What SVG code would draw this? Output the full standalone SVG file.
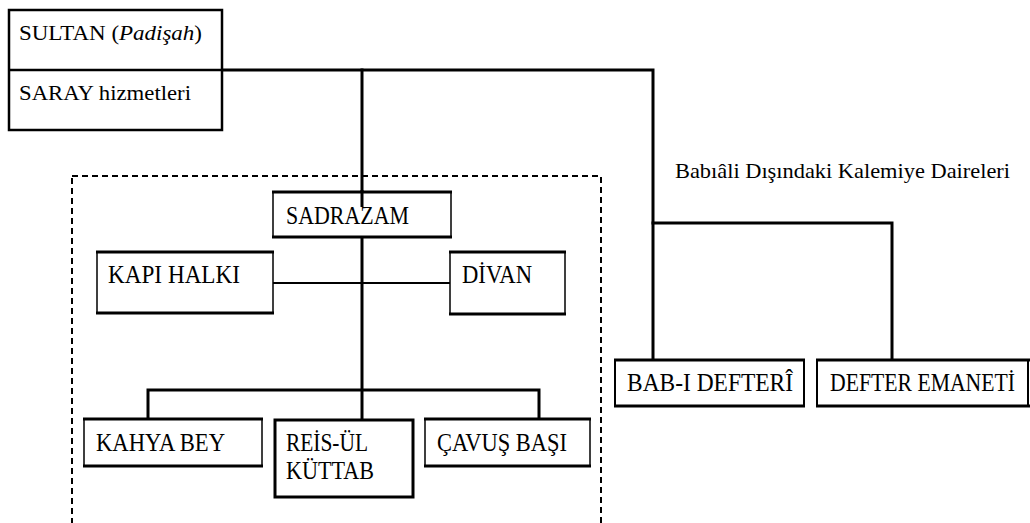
<svg xmlns="http://www.w3.org/2000/svg" width="1030" height="523" viewBox="0 0 1030 523">
<style>
  .box { fill: #fff; stroke: #000; stroke-width: 1.5; }
  .edge { stroke: #000; stroke-width: 3; fill: none; }
  .thin { stroke: #000; stroke-width: 2; fill: none; }
  .wire { stroke: #000; stroke-width: 3; fill: none; stroke-linecap: square; }
</style>
<rect width="1030" height="523" fill="#fff"/>

<!-- dashed container -->
<rect x="72" y="176" width="529" height="370" fill="none" stroke="#000" stroke-width="2" stroke-dasharray="6 4"/>

<g id="connectors">
  <path class="wire" d="M222 70 H653 V360"/>
  <path class="wire" d="M653 223 H892 V360"/>
  <path class="wire" d="M362 70 V207"/>
  <path class="wire" d="M362 237 V419"/>
  <path class="thin" d="M273 283 H450"/>
  <path class="wire" d="M148 418 V390 H539 V417"/>
</g>

<g id="sultan">
  <rect x="9" y="10" width="213" height="120" fill="#fff" stroke="#000" stroke-width="2.5"/>
  <line x1="9" y1="70" x2="222" y2="70" stroke="#000" stroke-width="2.5"/>
  <text x="19" y="40" font-family="'Liberation Serif', serif" font-size="22" fill="#000" textLength="183" lengthAdjust="spacingAndGlyphs">SULTAN (<tspan font-style="italic">Padişah</tspan>)</text>
  <text x="19" y="100" font-family="'Liberation Serif', serif" font-size="22" fill="#000" textLength="172" lengthAdjust="spacingAndGlyphs">SARAY hizmetleri</text>
</g>

<g id="sadrazam">
  <rect class="box" x="273" y="192" width="178" height="45"/>
  <line class="edge" x1="272" y1="192" x2="452" y2="192" stroke-width="2"/>
  <line class="edge" x1="272" y1="237" x2="452" y2="237"/>
  <line x1="362" y1="190" x2="362" y2="207" stroke="#000" stroke-width="3"/>
  <text x="286" y="224" font-family="'Liberation Serif', serif" font-size="25" fill="#000" textLength="123" lengthAdjust="spacingAndGlyphs">SADRAZAM</text>
</g>

<g id="kapi-halki">
  <rect class="box" x="97" y="252" width="176" height="61"/>
  <line class="edge" x1="96" y1="252" x2="274" y2="252"/>
  <line class="edge" x1="96" y1="313" x2="274" y2="313"/>
  <text x="108" y="283" font-family="'Liberation Serif', serif" font-size="25" fill="#000" textLength="132" lengthAdjust="spacingAndGlyphs">KAPI  HALKI</text>
</g>

<g id="divan">
  <rect class="box" x="450" y="252" width="115" height="62"/>
  <line class="edge" x1="449" y1="252" x2="566" y2="252" stroke-width="2"/>
  <line class="edge" x1="449" y1="314" x2="566" y2="314"/>
  <text x="462" y="283" font-family="'Liberation Serif', serif" font-size="25" fill="#000" textLength="70" lengthAdjust="spacingAndGlyphs">DİVAN</text>
</g>

<g id="kahya-bey">
  <rect class="box" x="84" y="419" width="178" height="47"/>
  <line class="edge" x1="83" y1="419" x2="263" y2="419"/>
  <line class="edge" x1="83" y1="466" x2="263" y2="466"/>
  <text x="96" y="451" font-family="'Liberation Serif', serif" font-size="25" fill="#000" textLength="129" lengthAdjust="spacingAndGlyphs">KAHYA BEY</text>
</g>

<g id="reis-ul-kuttab">
  <rect x="275" y="420" width="138" height="77" fill="#fff" stroke="#000" stroke-width="3"/>
  <text x="286" y="451" font-family="'Liberation Serif', serif" font-size="25" fill="#000" textLength="82" lengthAdjust="spacingAndGlyphs">REİS-ÜL</text>
  <text x="286" y="479" font-family="'Liberation Serif', serif" font-size="25" fill="#000" textLength="88" lengthAdjust="spacingAndGlyphs">KÜTTAB</text>
</g>

<g id="cavus-basi">
  <rect class="box" x="425" y="419" width="165" height="47"/>
  <line class="edge" x1="424" y1="419" x2="591" y2="419"/>
  <line class="edge" x1="424" y1="466" x2="591" y2="466"/>
  <text x="437" y="451" font-family="'Liberation Serif', serif" font-size="25" fill="#000" textLength="130" lengthAdjust="spacingAndGlyphs">ÇAVUŞ BAŞI</text>
</g>

<g id="kalemiye-label">
  <text x="675" y="178" font-family="'Liberation Serif', serif" font-size="22" fill="#000" textLength="335" lengthAdjust="spacingAndGlyphs">Babıâli Dışındaki Kalemiye Daireleri</text>
</g>

<g id="bab-i-defteri">
  <rect x="615" y="360" width="189" height="46" fill="#fff" stroke="#000" stroke-width="2"/>
  <line class="edge" x1="614" y1="360" x2="805" y2="360"/>
  <line class="edge" x1="614" y1="406" x2="805" y2="406"/>
  <text x="627" y="391" font-family="'Liberation Serif', serif" font-size="25" fill="#000" textLength="166" lengthAdjust="spacingAndGlyphs">BAB-I DEFTERÎ</text>
</g>

<g id="defter-emaneti">
  <rect x="817" y="360" width="211" height="46" fill="#fff" stroke="#000" stroke-width="2"/>
  <line class="edge" x1="816" y1="360" x2="1030" y2="360"/>
  <line class="edge" x1="816" y1="406" x2="1030" y2="406"/>
  <text x="830" y="391" font-family="'Liberation Serif', serif" font-size="25" fill="#000" textLength="185" lengthAdjust="spacingAndGlyphs">DEFTER EMANETİ</text>
</g>
</svg>
